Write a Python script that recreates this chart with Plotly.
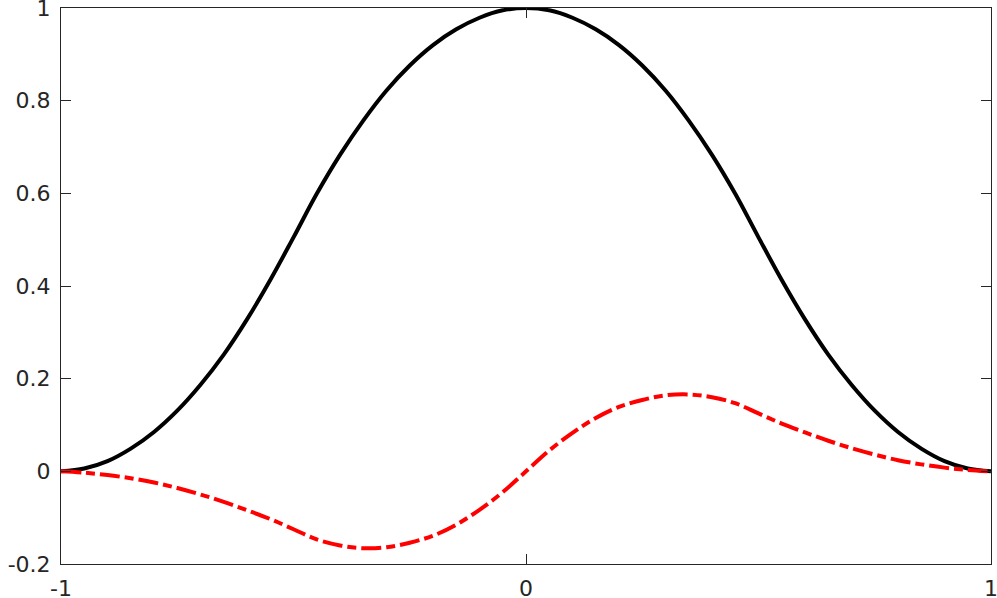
import plotly.graph_objects as go

x_vals = [-1.0, -0.95, -0.9, -0.85, -0.8, -0.75, -0.7, -0.65, -0.6, -0.55, -0.5,
          -0.45, -0.4, -0.35, -0.3, -0.25, -0.2, -0.15, -0.1, -0.05, 0.0,
          0.05, 0.1, 0.15, 0.2, 0.25, 0.3, 0.35, 0.4, 0.45, 0.5,
          0.55, 0.6, 0.65, 0.7, 0.75, 0.8, 0.85, 0.9, 0.95, 1.0]

black_vals = [0.0, 0.006, 0.022, 0.049, 0.085, 0.131, 0.187, 0.252, 0.328, 0.413, 0.505,
              0.599, 0.683, 0.757, 0.822, 0.876, 0.92, 0.954, 0.979, 0.995, 1.0,
              0.995, 0.979, 0.954, 0.92, 0.876, 0.822, 0.757, 0.683, 0.599, 0.505,
              0.413, 0.328, 0.252, 0.187, 0.131, 0.085, 0.049, 0.022, 0.006, 0.0]

red_vals = [0.0, -0.003, -0.008, -0.015, -0.024, -0.036, -0.05, -0.066, -0.084, -0.103, -0.125,
            -0.147, -0.16, -0.166, -0.164, -0.154, -0.139, -0.115, -0.083, -0.045, 0.0,
            0.045, 0.083, 0.115, 0.139, 0.154, 0.164, 0.166, 0.16, 0.147, 0.125,
            0.103, 0.084, 0.066, 0.05, 0.036, 0.024, 0.015, 0.008, 0.003, 0.0]

x_ticks = [-1, 0, 1]
x_tick_labels = ["-1", "0", "1"]
y_ticks = [-0.2, 0, 0.2, 0.4, 0.6, 0.8, 1]
y_tick_labels = ["-0.2", "0", "0.2", "0.4", "0.6", "0.8", "1"]

axis_color = "#262626"

fig = go.Figure()
fig.add_trace(go.Scatter(x=x_vals, y=black_vals, mode="lines",
                         line=dict(color="black", width=4, shape="spline", smoothing=1.0),
                         showlegend=False))
fig.add_trace(go.Scatter(x=x_vals, y=red_vals, mode="lines",
                         line=dict(color="#ff0000", width=4, shape="spline", smoothing=1.0,
                                   dash="20px,5px,9px,5px"),
                         showlegend=False))

axis_common = dict(showgrid=False, zeroline=False, showline=True, linecolor=axis_color,
                   linewidth=1, mirror="ticks", ticks="inside", ticklen=10,
                   tickcolor=axis_color, tickwidth=1, automargin=False,
                   ticklabeloverflow="allow",
                   tickfont=dict(family="DejaVu Sans", size=22, color=axis_color))

fig.update_xaxes(range=[-1, 1], tickvals=x_ticks, ticktext=x_tick_labels,
                 ticklabelstandoff=5, **axis_common)
fig.update_yaxes(range=[-0.2, 1], tickvals=y_ticks, ticktext=y_tick_labels,
                 ticklabelstandoff=5, **axis_common)

fig.update_layout(width=997, height=598, margin=dict(l=61, r=6, t=8, b=34, autoexpand=False),
                  plot_bgcolor="white", paper_bgcolor="white")

fig.write_html("out.html", config={"displayModeBar": False},
               post_script="document.body.style.margin='0';document.body.style.overflow='hidden';")
